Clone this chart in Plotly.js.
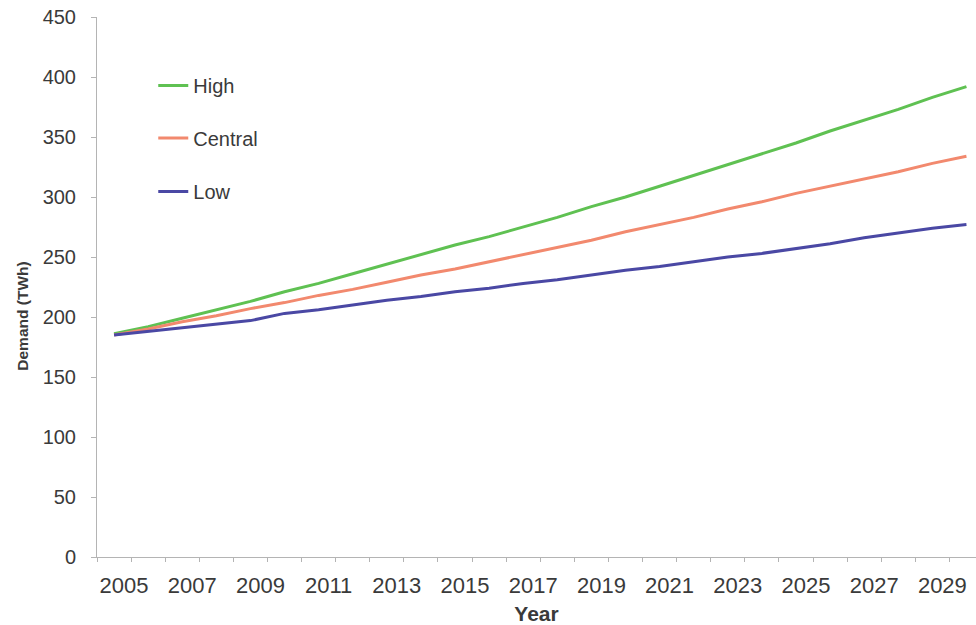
<!DOCTYPE html>
<html>
<head>
<meta charset="utf-8">
<script src="https://cdn.plot.ly/plotly-3.0.1.min.js"></script>
<style>html,body{margin:0;padding:0;background:#fff;overflow:hidden}#chart{width:976px;height:625px}</style>
</head>
<body>
<div id="chart"></div>
<script>
const years = [2005,2006,2007,2008,2009,2010,2011,2012,2013,2014,2015,2016,2017,2018,2019,2020,2021,2022,2023,2024,2025,2026,2027,2028,2029,2030];
const high = [186,192,199,206,213,221,228,236,244,252,260,267,275,283,292,300,309,318,327,336,345,355,364,373,383,392];
const central = [185,190,196,201,207,212,218,223,229,235,240,246,252,258,264,271,277,283,290,296,303,309,315,321,328,334];
const low = [185,188,191,194,197,203,206,210,214,217,221,224,228,231,235,239,242,246,250,253,257,261,266,270,274,277];
const tickYears = [2005,2007,2009,2011,2013,2015,2017,2019,2021,2023,2025,2027,2029];
const seriesNames = ['High','Central','Low'];
const yTitle = 'Demand (TWh)';
const xTitle = 'Year';

const FONT = 'Liberation Sans, Arial, sans-serif';
const TXT = '#3a3a3a';
const AX = '#b4b4b4';

const minorTicks = years.map(y => y - 0.5).concat([years[years.length-1] + 0.5]);

const traces = [
  {x: years, y: high, name: seriesNames[0], type: 'scatter', mode: 'lines', line: {color: '#5fc152', width: 3}, legend: 'legend'},
  {x: years, y: central, name: seriesNames[1], type: 'scatter', mode: 'lines', line: {color: '#f2896e', width: 3}, legend: 'legend2'},
  {x: years, y: low, name: seriesNames[2], type: 'scatter', mode: 'lines', line: {color: '#4a48a4', width: 3}, legend: 'legend3'}
];

function leg(y) {
  return {x: 0.064, y: y, xanchor: 'left', yanchor: 'middle', bgcolor: 'rgba(0,0,0,0)',
    font: {family: FONT, size: 20, color: TXT}, itemwidth: 30};
}

const layout = {
  width: 976, height: 625,
  margin: {l: 97, r: 0, t: 17, b: 68},
  paper_bgcolor: '#fff', plot_bgcolor: '#fff',
  font: {family: FONT, color: TXT},
  showlegend: true,
  legend: leg(0.873),
  legend2: leg(0.776),
  legend3: leg(0.677),
  xaxis: {
    type: 'linear', range: [2004.5, 2030.28],
    tickmode: 'array', tickvals: tickYears, ticktext: tickYears.map(String),
    ticks: '', showgrid: false, zeroline: false,
    showline: true, linecolor: AX, linewidth: 1,
    tickfont: {family: FONT, size: 22, color: TXT},
    ticklabelshift: 10, ticklabelstandoff: 9,
    minor: {tickmode: 'array', tickvals: minorTicks, ticks: 'outside', ticklen: 4, tickcolor: AX, showgrid: false},
    title: {text: xTitle, font: {family: FONT, size: 21, weight: 'bold', color: TXT}, standoff: 8}
  },
  yaxis: {
    range: [0, 450], tickmode: 'linear', tick0: 0, dtick: 50,
    ticks: 'outside', ticklen: 5, tickcolor: AX,
    showgrid: false, zeroline: false,
    showline: true, linecolor: AX, linewidth: 1,
    tickfont: {family: FONT, size: 20, color: TXT},
    ticklabelstandoff: 11
  },
  annotations: [{
    text: yTitle, textangle: -90, xref: 'paper', yref: 'paper',
    x: (23 - 97) / 879, y: (557.3 - 317) / 540, xanchor: 'center', yanchor: 'middle',
    showarrow: false, font: {family: FONT, size: 15.5, weight: 'bold', color: TXT}
  }]
};

Plotly.newPlot('chart', traces, layout, {displayModeBar: false, staticPlot: true});
</script>
</body>
</html>
